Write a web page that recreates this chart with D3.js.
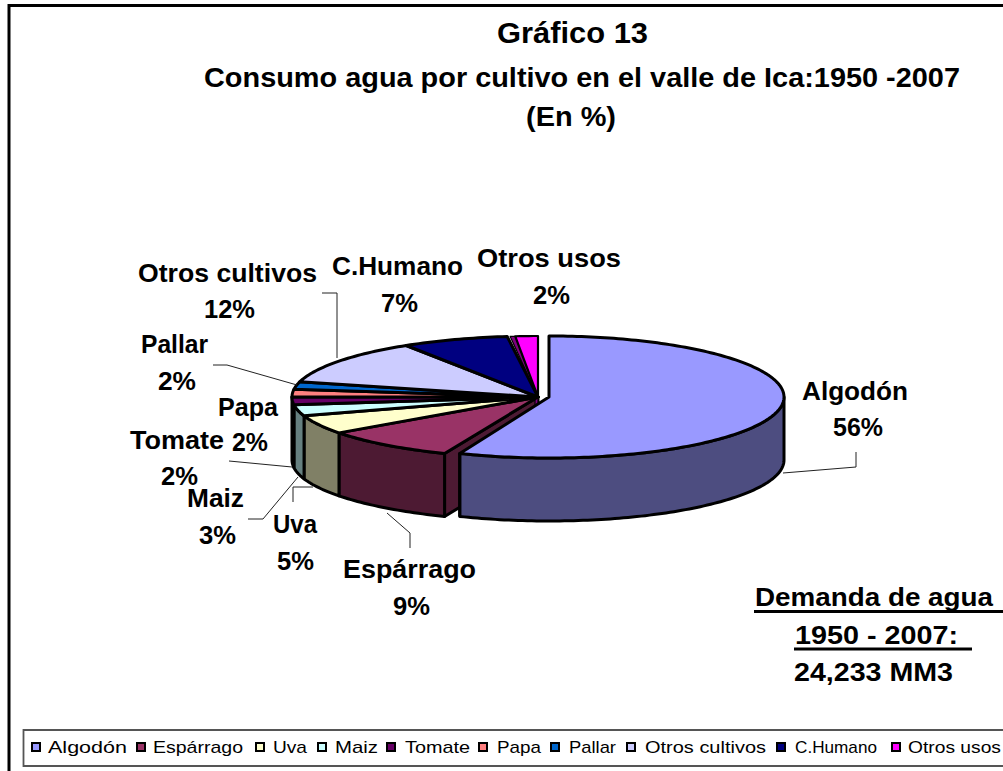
<!DOCTYPE html>
<html><head><meta charset="utf-8">
<script src="https://cdnjs.cloudflare.com/ajax/libs/d3/7.8.5/d3.min.js"></script>
<style>html,body{margin:0;padding:0;background:#fff;overflow:hidden}svg{display:block}text{font-family:"Liberation Sans",Arial,sans-serif;fill:#000}</style>
</head><body><svg id="c" width="1003" height="771"></svg>
<script>
// ---- data
const categories = ["Algodón","Espárrago","Uva","Maiz","Tomate","Papa","Pallar","Otros cultivos","C.Humano","Otros usos"];
const shares = [56.2,8.8,5,3,2,2,2,12,7,2];
const topColors = ["#9999FF","#993366","#FFFFCC","#CCFFFF","#660066","#FF8080","#0066CC","#CCCCFF","#000080","#FF00FF"];
const sideColors = ["#4D4D80","#4D1A33","#808066","#668080","#330033","#804040","#003366","#666680","#000040","#800080"];
const titleLines = ["Gráfico 13","Consumo agua por cultivo en el valle de Ica:1950 -2007","(En %)"];
const noteLines = ["Demanda de agua","1950 - 2007:","24,233 MM3"];

// ---- layout (not data)
const svg = d3.select("#c");
const cx = 538, cy = 397, rx = 246, ry = 61, depth = 63, explodeX = 11, algRx = 235;
const labelBox = [ // name box [x0,x1,baseline], value box [x0,x1,baseline]
 [[802,908,400],[833,883,436]],
 [[343,476,578],[393,430,615]],
 [[273,317,533],[277,314,570]],
 [[187,244,507],[199,236,544]],
 [[130,224,449],[161,198,485]],
 [[218,278,416],[232,268,451]],
 [[141,208,353],[158,196,390]],
 [[138,317,282],[204,255,318]],
 [[332,463,275],[381,418,312]],
 [[477,621,267],[533,570,304]]
];
const leaders = [
 [[783,473],[856,467],[856,452]],
 [[387,513],[410,533],[410,548]],
 [[293,502],[293,487],[313,487]],
 [[248,519],[263,519],[298,477]],
 [[229,461],[292,467]],
 null,
 [[213,365],[227,365],[297,385]],
 [[322,293],[337,293],[337,358]],
 null, null
];
const legendSwatchX = [36,141,260,322,391,483,555,631,781,896];
const legendText = [[48,127],[153,243],[273,307],[335,378],[405,470],[497,541],[569,616],[645,766],[795,877],[908,1001]];

const pie = d3.pie().value(d=>d).sort(null);
const arcs = pie(shares);
const line = d3.line();
const P = (a,c,r)=>[c + r*Math.sin(a), cy - ry*Math.cos(a)];
const arcPts = (a0,a1,c,r)=>{const n=Math.max(2,Math.ceil((a1-a0)/0.02));return d3.range(n+1).map(i=>P(a0+(a1-a0)*i/n,c,r));};
const down = p=>[p[0],p[1]+depth];
const HALF = Math.PI/2, DEG = Math.PI/180;

const gPie = svg.append("g").attr("stroke","#000").attr("stroke-linejoin","round");
function wallFace(a0,a1,c,r,fill,w){
  const s=Math.max(a0,HALF), e=Math.min(a1,3*HALF);
  if(e<=s) return;
  const t=arcPts(s,e,c,r);
  gPie.append("path").attr("d",line(t.concat(t.map(down).reverse()))+"Z").attr("fill",fill).attr("stroke-width",w);
}
function topFace(a0,a1,c,r,fill,w){
  gPie.append("path").attr("d",line([[c,cy]].concat(arcPts(a0,a1,c,r)))+"Z").attr("fill",fill).attr("stroke-width",w);
}
// cut face of Espárrago, exposed because Algodón is pulled out
const e0=P(arcs[1].startAngle,cx,rx);
gPie.append("path").attr("d",line([[cx,cy],e0,down(e0),[cx,cy+depth]])+"Z").attr("fill",sideColors[1]).attr("stroke-width",3);
// sliver of Otros usos hub
gPie.append("path").attr("d",line([[cx-3,cy],[cx,cy],[cx,cy+depth],[cx-3,cy+depth]])+"Z").attr("fill",sideColors[9]).attr("stroke-width",1.2);
// outer walls
arcs.slice(1).forEach(d=>wallFace(d.startAngle,d.endAngle,cx,rx,sideColors[d.index],3));
// tops
arcs.slice(1,9).forEach(d=>topFace(d.startAngle,d.endAngle,cx,rx,topColors[d.index],3));
const u=arcs[9];
topFace(u.startAngle+0.7*DEG,u.startAngle+1.9*DEG,cx,rx,sideColors[9],1.2);
topFace(u.startAngle+1.9*DEG,u.endAngle,cx,rx,topColors[9],2.2);
// Algodón, pulled out
const a=arcs[0], ac=cx+explodeX;
wallFace(a.startAngle,a.endAngle,ac,algRx,sideColors[0],3);
const aEnd=P(a.endAngle,ac,algRx);
gPie.append("path").attr("d",line([aEnd,down(aEnd)])).attr("stroke-width",3);
topFace(a.startAngle,a.endAngle,ac,algRx,topColors[0],3);

// leaders
svg.append("g").selectAll("path").data(leaders.filter(Boolean)).join("path")
  .attr("d",d=>line(d)).attr("fill","none").attr("stroke","#222").attr("stroke-width",1);

// text helper: glyphs are stretched to the measured width
function fit(t,x0,x1,y,size,weight){
  svg.append("text").attr("x",x0).attr("y",y).attr("font-size",size).attr("font-weight",weight)
    .attr("textLength",x1-x0).attr("lengthAdjust","spacingAndGlyphs").text(t);
}
// title
fit(titleLines[0],497,648,43,29,"bold");
fit(titleLines[1],204,960,87,27.5,"bold");
fit(titleLines[2],526,616,126,28,"bold");
// labels
categories.forEach((c,i)=>{
  const [n,v]=labelBox[i];
  fit(c,n[0],n[1],n[2],25.5,"bold");
  fit(Math.round(shares[i])+"%",v[0],v[1],v[2],25.5,"bold");
});
// note
fit(noteLines[0],755,993,606,26,"bold");
fit(noteLines[1],795,958,644,26,"bold");
fit(noteLines[2],794,953,681,26,"bold");
svg.append("path").attr("d","M754,611.5H1003M794,649H972").attr("stroke","#000").attr("stroke-width",3);

// chart frame
svg.append("path").attr("d","M9,771V5.5H1003").attr("fill","none").attr("stroke","#000").attr("stroke-width",3);
// legend
svg.append("path").attr("d","M1003,730H23.5V766H1003").attr("fill","none").attr("stroke","#555").attr("stroke-width",1.8);
categories.forEach((c,i)=>{
  svg.append("rect").attr("x",legendSwatchX[i]-4).attr("y",743).attr("width",8).attr("height",8)
    .attr("fill",topColors[i]).attr("stroke","#000").attr("stroke-width",2);
  fit(c,legendText[i][0],legendText[i][1],753,17,"normal");
});
</script></body></html>
